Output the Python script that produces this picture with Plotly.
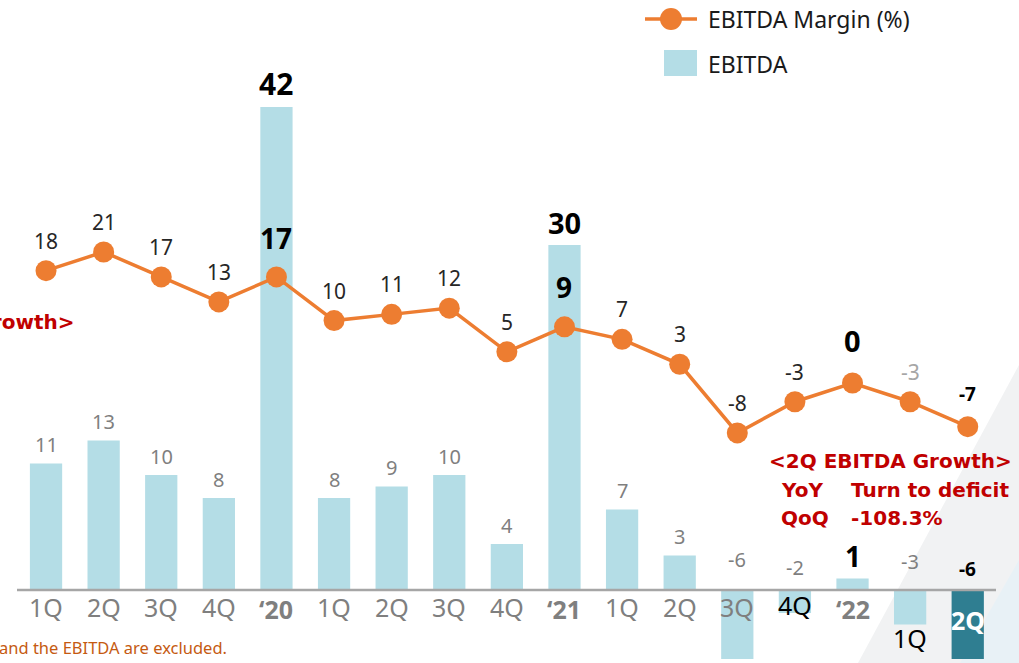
import plotly.graph_objects as go

W, H = 1019, 663

tick_labels = ["1Q", "2Q", "3Q", "4Q", "‘20", "1Q", "2Q", "3Q", "4Q", "‘21",
               "1Q", "2Q", "3Q", "4Q", "‘22", "1Q", "2Q"]
ebitda = [11, 13, 10, 8, 42, 8, 9, 10, 4, 30, 7, 3, -6, -2, 1, -3, -6]
margin = [18, 21, 17, 13, 17, 10, 11, 12, 5, 9, 7, 3, -8, -3, 0, -3, -7]
year_idx = [4, 9, 14]

x = list(range(len(tick_labels)))

ORANGE = "#ED7D31"
LIGHT = "#B4DDE6"
DARK = "#2F7E91"
GRAY = "#7F7F7F"
FONT = "Noto Sans"


def py(p):  # pixel y -> paper
    return 1 - p / H


def px(p):
    return p / W


bar_colors = [LIGHT] * (len(x) - 1) + [DARK]

fig = go.Figure()
fig.add_trace(go.Bar(x=x, y=ebitda, marker=dict(color=bar_colors, line=dict(width=0)),
                     width=0.56, yaxis="y", hoverinfo="skip", showlegend=False))
fig.add_trace(go.Scatter(x=x, y=margin, yaxis="y2", mode="lines+markers",
                         line=dict(color=ORANGE, width=3.5),
                         marker=dict(color=ORANGE, size=21), showlegend=False))

ann = []
shapes = []

# background decoration
shapes.append(dict(type="path", xref="paper", yref="paper",
                   path=f"M {px(1019)},{py(365)} L {px(858)},{py(663)} L {px(1019)},{py(663)} Z",
                   fillcolor="#F1F2F3", line=dict(width=0), layer="below"))
shapes.append(dict(type="path", xref="paper", yref="paper",
                   path=f"M {px(1019)},{py(560)} L {px(960)},{py(663)} L {px(1019)},{py(663)} Z",
                   fillcolor="#E8F1F6", line=dict(width=0), layer="below"))

# axis baseline
shapes.append(dict(type="line", xref="paper", yref="y", x0=px(17), x1=px(996), y0=0, y1=0,
                   line=dict(color="#A6A6A6", width=2.5), layer="above"))

# bar labels
bold_bar = {4: 30, 9: 29, 14: 28, 16: 19}
for i, v in enumerate(ebitda):
    if i in bold_bar:
        size = bold_bar[i]
        txt = f"<b>{v}</b>"
        col = "black"
    else:
        size = 20
        txt = str(v)
        col = GRAY
    if v >= 0:
        ys = 3 if i not in bold_bar else 1
        ann.append(dict(x=i, y=v, xref="x", yref="y", text=txt, showarrow=False,
                        yanchor="bottom", yshift=ys, font=dict(size=size, color=col, family=FONT)))
    else:
        ys = {12: 15, 13: 7, 15: 13, 16: 6}.get(i, 12)
        ann.append(dict(x=i, y=0, xref="x", yref="y", text=txt, showarrow=False,
                        yanchor="bottom", yshift=ys, font=dict(size=size, color=col, family=FONT)))

# line labels
bold_line = {4: 28, 9: 28, 14: 29, 16: 19}
for i, v in enumerate(margin):
    if i in bold_line:
        size = bold_line[i]
        txt = f"<b>{v}</b>"
        col = "black"
        ys = {4: 18, 9: 19, 14: 21, 16: 18}[i]
    else:
        size = 21
        txt = str(v)
        col = "#A6A6A6" if i == 15 else "#262626"
        ys = 14
    ann.append(dict(x=i, y=v, xref="x", yref="y2", text=txt, showarrow=False,
                    yanchor="bottom", yshift=ys, font=dict(size=size, color=col, family=FONT)))

# tick labels
for i, t in enumerate(tick_labels):
    col = GRAY
    yc = 607
    txt = t
    if i in year_idx:
        txt = f"<b>{t}</b>"
        yc = 609
    if i == 13:
        col = "black"
        yc = 605
    if i == 15:
        col = "black"
        yc = 638
    if i == 16:
        col = "white"
        yc = 620
        txt = f"<b>{t}</b>"
    ann.append(dict(x=i, y=py(yc), xref="x", yref="paper", text=txt, showarrow=False,
                    yanchor="middle", font=dict(size=25, color=col, family=FONT)))

# legend (manual)
shapes.append(dict(type="line", xref="paper", yref="paper", x0=px(645), x1=px(697),
                   y0=py(19), y1=py(19), line=dict(color=ORANGE, width=3.5)))
shapes.append(dict(type="circle", xref="paper", yref="paper", x0=px(660), x1=px(682),
                   y0=py(30), y1=py(8), fillcolor=ORANGE, line=dict(width=0)))
shapes.append(dict(type="rect", xref="paper", yref="paper", x0=px(664), x1=px(697),
                   y0=py(76), y1=py(50), fillcolor=LIGHT, line=dict(width=0)))
ann.append(dict(x=px(706), y=py(19), xref="paper", yref="paper", text="EBITDA Margin (%)",
                showarrow=False, xanchor="left", yanchor="middle",
                font=dict(size=23, color="#1a1a1a", family=FONT)))
ann.append(dict(x=px(706), y=py(64), xref="paper", yref="paper", text="EBITDA",
                showarrow=False, xanchor="left", yanchor="middle",
                font=dict(size=23, color="#1a1a1a", family=FONT)))

# red growth boxes
RED = "#C00000"
RF = "DejaVu Sans"
RS = 20
ann.append(dict(x=px(76), y=py(322), xref="paper", yref="paper", text="<b>&lt;1H EBITDA Growth&gt;</b>",
                showarrow=False, xanchor="right", yanchor="middle",
                font=dict(size=RS, color=RED, family=RF)))
ann.append(dict(x=px(767), y=py(461), xref="paper", yref="paper", text="<b>&lt;2Q EBITDA Growth&gt;</b>",
                showarrow=False, xanchor="left", yanchor="middle",
                font=dict(size=RS, color=RED, family=RF)))
ann.append(dict(x=px(779), y=py(490), xref="paper", yref="paper", text="<b>YoY</b>",
                showarrow=False, xanchor="left", yanchor="middle",
                font=dict(size=RS, color=RED, family=RF)))
ann.append(dict(x=px(849), y=py(490), xref="paper", yref="paper", text="<b>Turn to deficit</b>",
                showarrow=False, xanchor="left", yanchor="middle",
                font=dict(size=RS, color=RED, family=RF)))
ann.append(dict(x=px(779), y=py(518), xref="paper", yref="paper", text="<b>QoQ</b>",
                showarrow=False, xanchor="left", yanchor="middle",
                font=dict(size=RS, color=RED, family=RF)))
ann.append(dict(x=px(849), y=py(518), xref="paper", yref="paper", text="<b>-108.3%</b>",
                showarrow=False, xanchor="left", yanchor="middle",
                font=dict(size=RS, color=RED, family=RF)))

# footnote
ann.append(dict(x=px(229), y=py(647), xref="paper", yref="paper",
                text="and the EBITDA are excluded.",
                showarrow=False, xanchor="right", yanchor="middle",
                font=dict(size=16.5, color="#C55A11", family=FONT)))

fig.update_layout(
    width=W, height=H,
    margin=dict(l=0, r=0, t=0, b=0),
    paper_bgcolor="white", plot_bgcolor="rgba(0,0,0,0)",
    xaxis=dict(range=[-0.799, 16.89], showgrid=False, zeroline=False, showticklabels=False,
               showline=False, fixedrange=True),
    yaxis=dict(range=[-6.35, 51.3], showgrid=False, zeroline=False, showticklabels=False,
               showline=False),
    yaxis2=dict(range=[-44.87, 61.38], overlaying="y", showgrid=False, zeroline=False,
                showticklabels=False, showline=False),
    annotations=ann, shapes=shapes, showlegend=False,
    font=dict(family=FONT),
)

fig.write_html("out.html", config={"displayModeBar": False},
               post_script="document.body.style.margin='0px';document.body.style.padding='0px';")
